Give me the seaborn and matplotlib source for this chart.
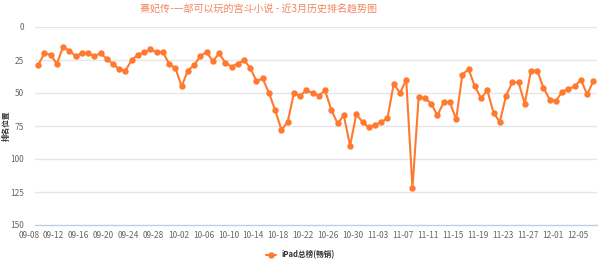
import numpy as np
import pandas as pd
import matplotlib
matplotlib.use("Agg")
import matplotlib.pyplot as plt
import seaborn as sns
import datetime as dt

title = "熹妃传-一部可以玩的宫斗小说 - 近3月历史排名趋势图"
series_name = "iPad总榜(畅销)"
y_label = "排名位置"
start_date = dt.date(2023, 9, 8)
ranks = [29, 20, 21, 28, 15, 18, 22, 20, 20, 22,
         20, 24, 28, 32, 33, 25, 21, 19, 17, 19,
         19, 28, 31, 45, 33, 29, 22, 19, 26, 20,
         27, 30, 28, 25, 31, 41, 39, 50, 63, 78,
         72, 50, 52, 48, 50, 52, 48, 63, 73, 67,
         90, 66, 72, 76, 74, 72, 69, 43, 50, 40,
         122, 53, 54, 58, 67, 57, 57, 70, 36, 32,
         45, 54, 48, 65, 72, 52, 42, 42, 58, 33,
         33, 46, 55, 56, 49, 47, 45, 40, 51, 41]
y_ticks = [0, 25, 50, 75, 100, 125, 150]

dates = [(start_date + dt.timedelta(days=i)).strftime("%m-%d") for i in range(len(ranks))]
df = pd.DataFrame({"idx": np.arange(len(ranks)), "date": dates, "rank": ranks})

sns.set_theme(style="white")
plt.rcParams['font.family'] = ['Noto Sans CJK SC', 'DejaVu Sans']

fig = plt.figure(figsize=(6.0, 2.61), dpi=100)
ax = fig.add_axes([35/600, 36/261, 561.5/600, 198/261])

line_color = "#FF7A2F"
for yt in y_ticks[:-1]:
    ax.axhline(yt, color="#E6E6E6", lw=1, zorder=0)

sns.lineplot(data=df, x="idx", y="rank", ax=ax, color=line_color, lw=1.5,
             marker="o", markersize=4.6, markeredgewidth=0, label=series_name,
             legend=False)

ax.set_xlim(-0.5, len(ranks) - 0.5)
ax.set_ylim(150, 0)
ax.set_yticks(y_ticks)
ax.set_yticklabels([str(v) for v in y_ticks], fontsize=6, color="#666666")
ax.tick_params(axis="y", length=0, pad=8)

ax.set_xticks(np.arange(-0.5, len(ranks), 1.0), minor=True)
ax.set_xticks([])
ax.tick_params(axis="x", which="minor", length=5, color="#C0D0E0", width=0.8,
               direction="out")
for i in range(0, len(ranks), 4):
    ax.text(i + 0.2, -0.03, dates[i], transform=ax.get_xaxis_transform(),
            ha="right", va="top", fontsize=6, color="#666666")

for s in ["top", "right", "left"]:
    ax.spines[s].set_visible(False)
ax.spines["bottom"].set_color("#C0D0E0")
ax.spines["bottom"].set_linewidth(1)
ax.set_xlabel("")
ax.set_ylabel("")

fig.text(259/600, 1 - 10/261, title, ha="center", va="center",
         fontsize=7.2, color="#F4845F")
fig.text(6/600, 1 - 126/261, y_label, rotation=90, ha="center",
         va="center", fontsize=5.5, color="#333333", fontweight="bold")

handles, labels = ax.get_legend_handles_labels()
leg = fig.legend(handles, labels, loc="center", bbox_to_anchor=(300/600, 6/261),
                 frameon=False, fontsize=5.5, handlelength=1.4, markerscale=1.0,
                 borderaxespad=0, handletextpad=0.6)
for t in leg.get_texts():
    t.set_color("#333333")
    t.set_fontweight("bold")

fig.savefig("out.png", dpi=100)
